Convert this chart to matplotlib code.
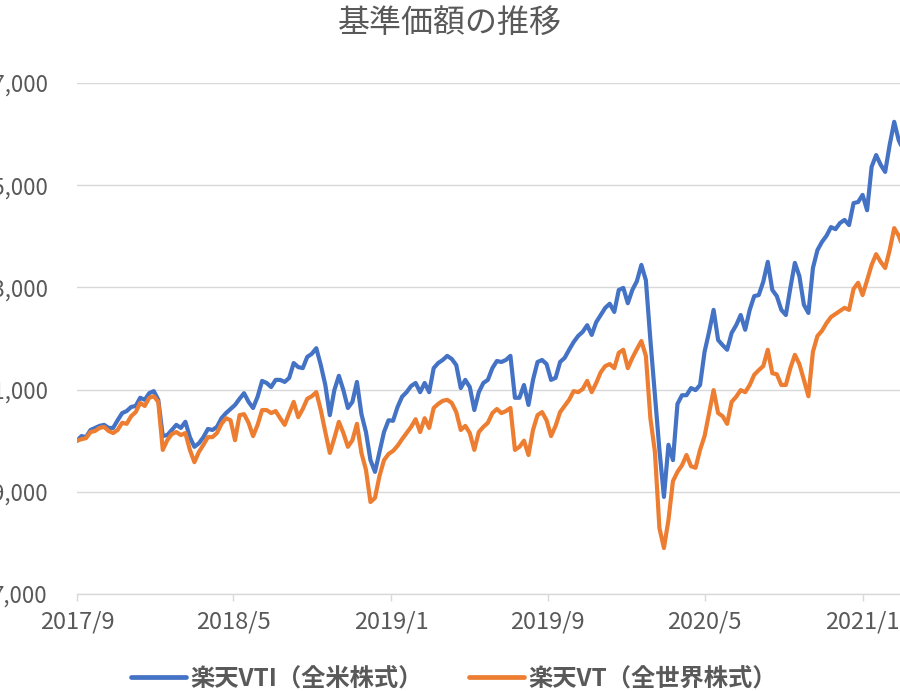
import matplotlib
matplotlib.use("Agg")
import matplotlib.pyplot as plt
import matplotlib.dates as mdates
import pandas as pd

plt.rcParams["font.family"] = ["Noto Sans CJK JP", "DejaVu Sans"]

# ----------------------------
# data (weekly)
# ----------------------------
start_date = "2017-09-29"
n_weeks = 184
dates = pd.date_range(start_date, periods=n_weeks, freq="7D")

vti = [
    10000, 10090, 10070, 10210, 10250, 10290, 10310, 10250, 10250, 10400,
    10540, 10580, 10660, 10680, 10840, 10800, 10930, 10970, 10800, 10090,
    10110, 10210, 10310, 10250, 10370, 10070, 9880, 9950, 10070, 10230,
    10210, 10270, 10440, 10540, 10620, 10700, 10820, 10930, 10760, 10640,
    10860, 11170, 11130, 11050, 11190, 11190, 11150, 11230, 11520, 11440,
    11420, 11640, 11700, 11810, 11480, 11090, 10500, 10990, 11270, 10990,
    10640, 10760, 11150, 10520, 10170, 9620, 9390, 9780, 10170, 10400,
    10390, 10660, 10860, 10950, 11070, 11130, 10950, 11130, 10950, 11420,
    11520, 11580, 11660, 11600, 11480, 11030, 11190, 11050, 10600, 10950,
    11130, 11190, 11420, 11560, 11540, 11580, 11660, 10840, 10840, 11090,
    10700, 11190, 11540, 11580, 11500, 11190, 11230, 11540, 11620, 11780,
    11930, 12050, 12130, 12260, 12070, 12320, 12460, 12600, 12680, 12520,
    12950, 12990, 12690, 12950, 13120, 13440, 13140, 11970, 10890, 9820,
    8900, 9920, 9620, 10720, 10890, 10890, 11030, 10990, 11090, 11740,
    12130, 12560, 11970, 11870, 11780, 12110, 12260, 12460, 12170, 12560,
    12830, 12850, 13110, 13500, 12950, 12830, 12560, 12460, 12990, 13480,
    13220, 12660, 12500, 13380, 13730, 13890, 14010, 14180, 14140, 14260,
    14320, 14220, 14650, 14670, 14810, 14510, 15360, 15590, 15400, 15260,
    15790, 16240, 15880, 15690,
]

vt = [
    10000, 10030, 10050, 10170, 10190, 10250, 10270, 10190, 10150, 10210,
    10350, 10330, 10480, 10560, 10740, 10680, 10840, 10870, 10760, 9820,
    10010, 10130, 10170, 10110, 10150, 9820, 9580, 9780, 9920, 10070,
    10070, 10150, 10330, 10440, 10400, 10010, 10500, 10520, 10350, 10090,
    10310, 10600, 10600, 10540, 10580, 10440, 10310, 10540, 10760, 10460,
    10620, 10820, 10870, 10950, 10600, 10170, 9760, 10050, 10370, 10150,
    9880, 10010, 10330, 9760, 9430, 8800, 8880, 9310, 9620, 9740,
    9800, 9900, 10030, 10150, 10270, 10420, 10170, 10440, 10250, 10640,
    10720, 10780, 10800, 10740, 10560, 10210, 10290, 10150, 9820, 10170,
    10270, 10350, 10540, 10620, 10540, 10580, 10640, 9820, 9880, 10000,
    9720, 10210, 10500, 10560, 10400, 10090, 10290, 10560, 10680, 10800,
    10970, 10950, 11010, 11170, 10950, 11130, 11340, 11460, 11500, 11420,
    11720, 11780, 11420, 11620, 11790, 11950, 11660, 10440, 9780, 8290,
    7900, 8450, 9210, 9390, 9520, 9720, 9500, 9470, 9820, 10090,
    10540, 10990, 10540, 10480, 10330, 10760, 10860, 10990, 10950, 11090,
    11290, 11380, 11460, 11780, 11320, 11300, 11090, 11090, 11420, 11680,
    11500, 11190, 10870, 11740, 12050, 12150, 12300, 12420, 12480, 12540,
    12600, 12560, 12970, 13090, 12850, 13140, 13440, 13650, 13500, 13380,
    13730, 14160, 14010, 13770,
]

series_labels = ["楽天VTI（全米株式）", "楽天VT（全世界株式）"]
series_colors = ["#4472C4", "#ED7D31"]

y_ticks = [7000, 9000, 11000, 13000, 15000, 17000]
x_ticks = ["2017-09-29", "2018-05-29", "2019-01-29", "2019-09-29", "2020-05-29", "2021-01-29"]
x_end = "2021-03-28"

title = "基準価額の推移"
text_gray = "#595959"
grid_gray = "#D9D9D9"

# ----------------------------
# plot
# ----------------------------
fig = plt.figure(figsize=(9, 6.91), dpi=100)
ax = fig.add_axes([77 / 900, 1 - 594 / 691, 1 - 77 / 900, (594 - 83) / 691])

for vals, lab, col in zip([vti, vt], series_labels, series_colors):
    ax.plot(dates, vals, color=col, lw=3.0, label=lab,
            solid_joinstyle="round", solid_capstyle="round")

ax.set_xlim(pd.Timestamp(start_date), pd.Timestamp(x_end))
ax.set_ylim(y_ticks[0], y_ticks[-1])
ax.set_yticks(y_ticks)
ax.set_yticklabels([f"{v:,}" for v in y_ticks])
ax.set_xticks(pd.to_datetime(x_ticks))
ax.xaxis.set_major_formatter(
    matplotlib.ticker.FuncFormatter(lambda x, pos: f"{mdates.num2date(x).year}/{mdates.num2date(x).month}"))

ax.grid(axis="y", color=grid_gray, lw=1.0)
ax.set_axisbelow(True)
for s in ["top", "right", "left"]:
    ax.spines[s].set_visible(False)
ax.spines["bottom"].set_color(grid_gray)
ax.spines["bottom"].set_linewidth(1.0)

ax.tick_params(axis="y", length=0, pad=21, labelsize=16, labelcolor=text_gray)
ax.tick_params(axis="x", length=5, width=1.0, color=grid_gray, pad=7,
               labelsize=17, labelcolor=text_gray)

fig.text(0.5, 1 - 23 / 691, title, ha="center", va="center",
         fontsize=23, color=text_gray)

leg = fig.legend(loc="center", bbox_to_anchor=(454 / 900, 1 - 679 / 691), ncol=2,
                 frameon=False, handlelength=2.25, handletextpad=0.2,
                 columnspacing=1.9, prop={"size": 17.5, "weight": "bold"})
for t in leg.get_texts():
    t.set_color(text_gray)
for h in leg.get_lines():
    h.set_linewidth(3.4)

fig.savefig("out.png", dpi=100)
